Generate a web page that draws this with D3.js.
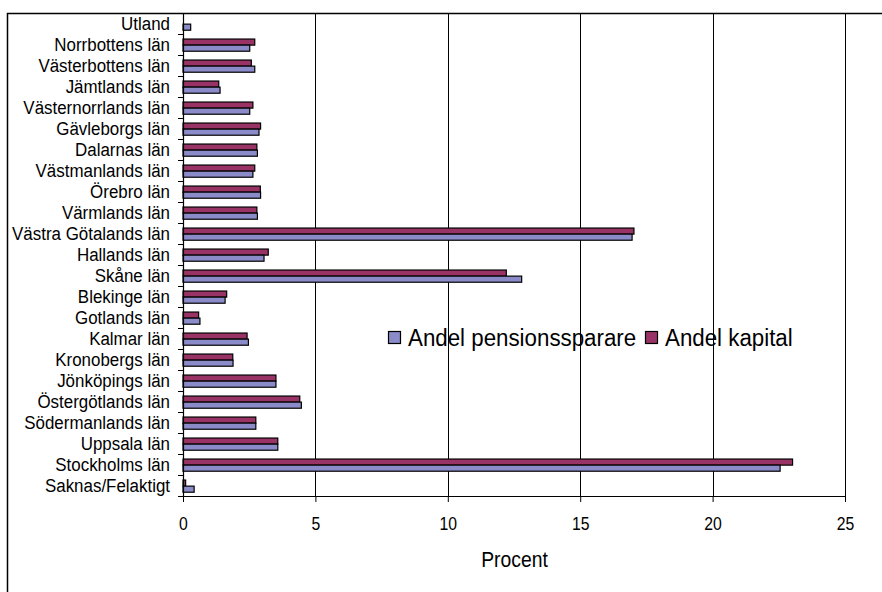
<!DOCTYPE html>
<html>
<head>
<meta charset="utf-8">
<script src="https://cdn.jsdelivr.net/npm/d3@7"></script>
<style>
  html, body { margin: 0; padding: 0; background: #ffffff; }
  svg { display: block; }
  text { font-family: Arial, "Liberation Sans", sans-serif; fill: #000; }
</style>
</head>
<body>
<svg id="chart" width="882" height="592"></svg>
<script>
// Counties, listed top to bottom as shown
const categories = [
  "Utland", "Norrbottens län", "Västerbottens län", "Jämtlands län",
  "Västernorrlands län", "Gävleborgs län", "Dalarnas län", "Västmanlands län",
  "Örebro län", "Värmlands län", "Västra Götalands län", "Hallands län",
  "Skåne län", "Blekinge län", "Gotlands län", "Kalmar län",
  "Kronobergs län", "Jönköpings län", "Östergötlands län", "Södermanlands län",
  "Uppsala län", "Stockholms län", "Saknas/Felaktigt"
];

// Share of pension savers (%)
const andelPensionssparare = [
  0.29, 2.52, 2.71, 1.40, 2.52, 2.87, 2.81, 2.64, 2.93, 2.81,
  16.96, 3.06, 12.79, 1.59, 0.64, 2.47, 1.89, 3.51, 4.47, 2.75,
  3.58, 22.55, 0.42
];

// Share of capital (%)
const andelKapital = [
  0, 2.71, 2.58, 1.35, 2.64, 2.93, 2.79, 2.71, 2.92, 2.79,
  17.03, 3.22, 12.21, 1.65, 0.59, 2.42, 1.88, 3.51, 4.41, 2.75,
  3.58, 23.02, 0.10
];

const seriesNames = ["Andel pensionssparare", "Andel kapital"];
const seriesColors = ["#8b8bc9", "#993366"];
const xTicks = [0, 5, 10, 15, 20, 25];
const axisTitle = "Procent";

const svg = d3.select("#chart");
const plot = { left: 183, right: 845, top: 13, bottom: 496 };
const squeeze = 0.9; // horizontal glyph compression

// Outer chart frame (open on the right and bottom)
svg.append("path")
  .attr("d", "M7.5,592 L7.5,13.5 L882,13.5")
  .attr("fill", "none").attr("stroke", "#000").attr("stroke-width", 1.5);

const x = d3.scaleLinear().domain([0, 25]).range([plot.left, plot.right]);
const y = d3.scaleBand().domain(categories).range([plot.top, plot.bottom]).paddingInner(0).paddingOuter(0);
// Inside each band: capital on top, pension savers below
const inner = d3.scaleBand().domain(["kapital", "pension"])
  .range([y.bandwidth() * 0.24, y.bandwidth() * 0.82]);

// Vertical gridlines
svg.append("g").selectAll("line")
  .data(xTicks.filter(d => d > 0))
  .join("line")
  .attr("x1", d => Math.round(x(d)) + 0.5).attr("x2", d => Math.round(x(d)) + 0.5)
  .attr("y1", plot.top).attr("y2", plot.bottom)
  .attr("stroke", "#000").attr("stroke-width", 1);

// Bars
const rows = categories.map((c, i) => ({ c, pension: andelPensionssparare[i], kapital: andelKapital[i] }));
const barG = svg.append("g");
rows.forEach(r => {
  [["kapital", r.kapital, seriesColors[1]], ["pension", r.pension, seriesColors[0]]].forEach(([k, v, col]) => {
    if (v <= 0) return;
    barG.append("rect")
      .attr("x", x(0))
      .attr("y", y(r.c) + inner(k))
      .attr("width", x(v) - x(0))
      .attr("height", inner.bandwidth())
      .attr("fill", col)
      .attr("stroke", "#000").attr("stroke-width", 1.2);
  });
});

// Category axis line and tick marks at band boundaries
svg.append("line")
  .attr("x1", plot.left + 0.5).attr("x2", plot.left + 0.5)
  .attr("y1", plot.top).attr("y2", plot.bottom)
  .attr("stroke", "#000").attr("stroke-width", 1.2);
svg.append("g").selectAll("line")
  .data(categories.slice(1))
  .join("line")
  .attr("x1", plot.left - 5).attr("x2", plot.left)
  .attr("y1", d => Math.round(y(d)) + 0.5).attr("y2", d => Math.round(y(d)) + 0.5)
  .attr("stroke", "#000").attr("stroke-width", 1);

// Category labels
svg.append("g").selectAll("text")
  .data(categories)
  .join("text")
  .attr("transform", d => `translate(170,${y(d) + y.bandwidth() / 2}) scale(${squeeze},1)`)
  .attr("text-anchor", "end")
  .attr("dy", "0.36em")
  .attr("font-size", 18.8)
  .text(d => d);

// Value axis
const xAxis = d3.axisBottom(x).tickValues(xTicks).tickSize(6).tickFormat(d3.format("d"));
const axG = svg.append("g").attr("transform", `translate(0,${plot.bottom})`).call(xAxis);
axG.select(".domain").attr("d", `M${plot.left - 5},0.5H${plot.right}`).attr("stroke", "#000").attr("stroke-width", 1.2);
axG.selectAll(".tick line").attr("stroke", "#000");
axG.selectAll(".tick text")
  .attr("y", 0).attr("dy", 0)
  .attr("font-size", 17.5)
  .attr("font-family", "Arial, 'Liberation Sans', sans-serif")
  .attr("transform", `translate(0,34) scale(${squeeze},1)`);

// Axis title
svg.append("text")
  .attr("transform", `translate(${(plot.left + plot.right) / 2 + 0.5},567) scale(${squeeze},1)`)
  .attr("text-anchor", "middle")
  .attr("font-size", 21.5)
  .text(axisTitle);

// Legend
const legendItems = [
  { name: seriesNames[0], color: seriesColors[0], x: 388 },
  { name: seriesNames[1], color: seriesColors[1], x: 645 }
];
const lg = svg.append("g");
legendItems.forEach(it => {
  lg.append("rect").attr("x", it.x + 0.5).attr("y", 331.5).attr("width", 12).attr("height", 12)
    .attr("fill", it.color).attr("stroke", "#000").attr("stroke-width", 1.2);
  lg.append("text")
    .attr("transform", `translate(${it.x + 20},346) scale(${squeeze},1)`)
    .attr("font-size", 24.8)
    .text(it.name);
});
</script>
</body>
</html>
